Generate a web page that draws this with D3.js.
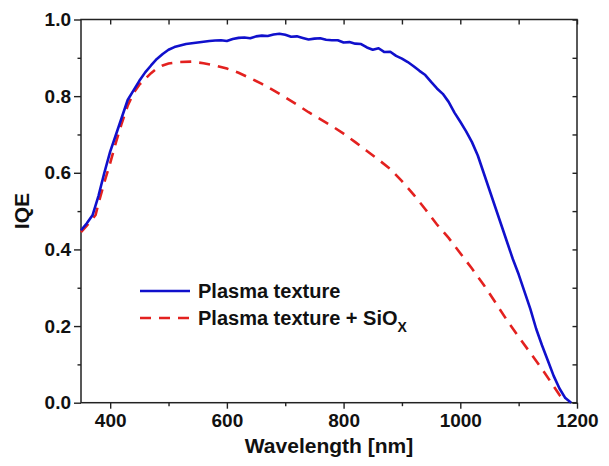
<!DOCTYPE html>
<html lang="en">
<head>
<meta charset="UTF-8">
<title>IQE vs Wavelength</title>
<script src="https://cdn.jsdelivr.net/npm/d3@7"></script>
<style>
    body { margin: 0; background: #fff; }
    text { font-family: "Liberation Sans", Arial, sans-serif; font-weight: bold; fill: #111; }
</style>
</head>
<body>
<script>
    // wavelength [nm] / IQE
    const wlPlasma = [350, 360, 370, 380, 390, 400, 410, 420, 430, 440, 450, 460, 470, 480, 490, 500,
        510, 520, 530, 540, 550, 560, 570, 580, 590, 600, 610, 620, 630, 640, 650, 660, 670, 680, 690, 700,
        710, 720, 730, 740, 750, 760, 770, 780, 790, 800, 810, 820, 830, 840, 850, 860, 870, 880, 890, 900,
        910, 920, 930, 940, 950, 960, 970, 980, 990, 1000, 1010, 1020, 1030, 1040, 1050, 1060, 1070, 1080,
        1090, 1100, 1110, 1120, 1130, 1140, 1150, 1160, 1170, 1180, 1190];
    const iqePlasma = [0.450, 0.468, 0.490, 0.540, 0.600, 0.655, 0.700, 0.745, 0.790, 0.815, 0.840, 0.862,
        0.880, 0.897, 0.910, 0.921, 0.928, 0.932, 0.936, 0.938, 0.940, 0.942, 0.944, 0.945, 0.946, 0.944,
        0.949, 0.952, 0.953, 0.951, 0.956, 0.958, 0.957, 0.961, 0.963, 0.960, 0.955, 0.956, 0.952, 0.948,
        0.950, 0.951, 0.947, 0.946, 0.946, 0.940, 0.941, 0.937, 0.936, 0.927, 0.921, 0.925, 0.915, 0.916,
        0.905, 0.898, 0.889, 0.878, 0.866, 0.855, 0.837, 0.820, 0.806, 0.785, 0.757, 0.733, 0.708, 0.680,
        0.645, 0.600, 0.555, 0.510, 0.465, 0.420, 0.375, 0.335, 0.290, 0.245, 0.193, 0.150, 0.110, 0.070,
        0.037, 0.012, 0.000];

    const wlSiox = [350, 360, 370, 375, 380, 390, 400, 410, 420, 430, 440, 450, 460, 470, 480, 490, 500,
        520, 540, 560, 580, 600, 620, 640, 660, 680, 700, 720, 740, 760, 780, 800, 820, 840, 860, 880, 900,
        920, 940, 960, 980, 1000, 1020, 1040, 1060, 1080, 1100, 1120, 1140, 1160, 1170, 1180];
    const iqeSiox = [0.445, 0.462, 0.480, 0.490, 0.520, 0.575, 0.625, 0.680, 0.730, 0.775, 0.808, 0.830,
        0.845, 0.860, 0.872, 0.880, 0.885, 0.889, 0.890, 0.886, 0.880, 0.872, 0.861, 0.847, 0.832, 0.815,
        0.797, 0.778, 0.758, 0.740, 0.722, 0.702, 0.680, 0.657, 0.634, 0.610, 0.578, 0.543, 0.505, 0.465,
        0.430, 0.390, 0.350, 0.308, 0.262, 0.215, 0.172, 0.130, 0.088, 0.043, 0.020, 0.003];

    const xMajor = [400, 600, 800, 1000, 1200];
    const xMinor = [500, 700, 900, 1100];
    const yMajor = [0.0, 0.2, 0.4, 0.6, 0.8, 1.0];
    const yMinor = [0.1, 0.3, 0.5, 0.7, 0.9];

    const W = 609, H = 466;
    const margin = { top: 19.5, right: 32, bottom: 63.3, left: 81 };
    const width = W - margin.left - margin.right;
    const height = H - margin.top - margin.bottom;

    const blue = '#1010cc', red = '#e3211f';

    const svg = d3.select('body').append('svg')
        .attr('width', W)
        .attr('height', H);

    const g = svg.append('g')
        .attr('transform', `translate(${margin.left},${margin.top})`);

    const x = d3.scaleLinear().domain([350, 1200]).range([0, width]);
    const y = d3.scaleLinear().domain([0, 1]).range([height, 0]);

    // axes: outward ticks bottom/left, inward mirror ticks top/right
    function styleAxis(sel) {
        sel.select('.domain').remove();
        sel.selectAll('line').attr('stroke', '#222').attr('stroke-width', 1.4);
    }

    g.append('g').attr('transform', `translate(0,${height})`)
        .call(d3.axisBottom(x).tickValues(xMinor).tickSize(3.5).tickFormat(''))
        .call(styleAxis);
    g.append('g').attr('transform', `translate(0,${height})`)
        .call(d3.axisBottom(x).tickValues(xMajor).tickSize(6).tickPadding(5).tickFormat(d3.format('d')))
        .call(styleAxis)
        .selectAll('text').attr('font-size', 19).attr('fill', '#111')
        .attr('font-family', '"Liberation Sans", Arial, sans-serif').attr('font-weight', 'bold');

    g.append('g')
        .call(d3.axisLeft(y).tickValues(yMinor).tickSize(3.5).tickFormat(''))
        .call(styleAxis);
    g.append('g')
        .call(d3.axisLeft(y).tickValues(yMajor).tickSize(7).tickPadding(3).tickFormat(d3.format('.1f')))
        .call(styleAxis)
        .selectAll('text').attr('font-size', 19).attr('fill', '#111')
        .attr('font-family', '"Liberation Sans", Arial, sans-serif').attr('font-weight', 'bold');

    g.append('g')
        .call(d3.axisTop(x).tickValues(xMajor.concat(xMinor)).tickSize(-5).tickFormat(''))
        .call(styleAxis);
    g.append('g').attr('transform', `translate(${width},0)`)
        .call(d3.axisRight(y).tickValues(yMajor.concat(yMinor)).tickSize(-4.5).tickFormat(''))
        .call(styleAxis);

    // frame
    g.append('rect')
        .attr('width', width)
        .attr('height', height)
        .attr('fill', 'none')
        .attr('stroke', '#222')
        .attr('stroke-width', 1.5);

    const line = d3.line()
        .x(d => x(d[0]))
        .y(d => y(d[1]));

    g.append('path')
        .datum(d3.zip(wlSiox, iqeSiox))
        .attr('fill', 'none')
        .attr('stroke', red)
        .attr('stroke-width', 2.6)
        .attr('stroke-dasharray', '11,8')
        .attr('d', line);

    g.append('path')
        .datum(d3.zip(wlPlasma, iqePlasma))
        .attr('fill', 'none')
        .attr('stroke', blue)
        .attr('stroke-width', 2.6)
        .attr('stroke-linejoin', 'round')
        .attr('d', line);

    // axis titles
    svg.append('text')
        .attr('x', margin.left + width / 2)
        .attr('y', 453)
        .attr('text-anchor', 'middle')
        .attr('font-size', 21)
        .text('Wavelength [nm]');

    svg.append('text')
        .attr('transform', `translate(29,${margin.top + height / 2}) rotate(-90)`)
        .attr('text-anchor', 'middle')
        .attr('font-size', 21)
        .text('IQE');

    // legend
    const legend = svg.append('g').attr('transform', 'translate(140,291)');

    legend.append('line')
        .attr('x1', 0).attr('x2', 50)
        .attr('y1', 0).attr('y2', 0)
        .attr('stroke', blue)
        .attr('stroke-width', 2.6);
    legend.append('text')
        .attr('x', 58).attr('y', 7)
        .attr('font-size', 20)
        .text('Plasma texture');

    legend.append('line')
        .attr('x1', 0).attr('x2', 50)
        .attr('y1', 27).attr('y2', 27)
        .attr('stroke', red)
        .attr('stroke-width', 2.6)
        .attr('stroke-dasharray', '11,8');
    const t2 = legend.append('text')
        .attr('x', 58).attr('y', 34)
        .attr('font-size', 20);
    t2.append('tspan').text('Plasma texture + SiO');
    t2.append('tspan').attr('font-size', 14).attr('dy', 7).text('X');
</script>
</body>
</html>
